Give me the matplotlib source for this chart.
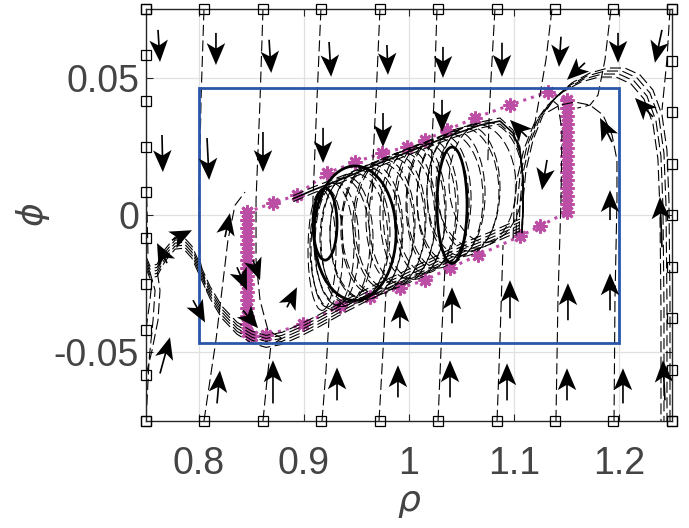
import numpy as np
import matplotlib
matplotlib.use('Agg')
import matplotlib.pyplot as plt
from matplotlib.patches import Ellipse, Rectangle
from matplotlib.transforms import offset_copy

# ---------------- axes ----------------
x_lim = [0.75, 1.25]
y_lim = [-0.075, 0.075]
x_ticks = [0.8, 0.9, 1.0, 1.1, 1.2]
x_tick_labels = ['0.8', '0.9', '1', '1.1', '1.2']
y_ticks = [-0.05, 0.0, 0.05]
y_tick_labels = ['-0.05', '0', '0.05']

# ---------------- initial conditions (squares) ----------------
sq_edge_rho = [0.75, 0.8056, 0.8611, 0.9167, 0.9722, 1.0278, 1.0833, 1.1389, 1.1944, 1.25]
sq_left_phi = [0.075, 0.0583, 0.0417, 0.025, 0.0083, -0.0083, -0.025, -0.0417, -0.0583, -0.075]
sq_right_phi = [0.075, 0.05625, 0.0375, 0.01875, 0.0, -0.01875, -0.0375, -0.05625, -0.075]

# ---------------- blue box ----------------
box_rho = [0.8, 1.2]
box_phi = [-0.0465, 0.0463]

# ---------------- magenta set ----------------
mag_left_rho = 0.846
mag_left_phi = [0.0011, -0.0018, -0.0047, -0.0077, -0.0106, -0.0135, -0.0164, -0.0193,
                -0.0223, -0.0252, -0.0281, -0.0310, -0.0339, -0.0369, -0.0398, -0.0427]
mag_upper_rho = [0.8707, 0.8935, 0.9221, 0.9487, 0.9743, 0.9981, 1.0152, 1.0361, 1.0627, 1.0960, 1.1321]
mag_upper_phi = [0.0044, 0.0073, 0.0153, 0.0193, 0.0226, 0.0248, 0.0274, 0.0310, 0.0354, 0.0401, 0.0449]
mag_right_rho = 1.1502
mag_right_phi = [0.0420, 0.0391, 0.0361, 0.0332, 0.0303, 0.0274, 0.0245, 0.0215,
                 0.0186, 0.0157, 0.0128, 0.0099, 0.0069, 0.0040, 0.0011]
mag_lower_rho = [1.1245, 1.1055, 1.0656, 1.0390, 1.0152, 0.9914, 0.9629, 0.9344, 0.8992, 0.8641, 0.8508]
mag_lower_phi = [-0.0040, -0.0077, -0.0146, -0.0193, -0.0237, -0.0266, -0.0299, -0.0332, -0.0398, -0.0438, -0.0442]

# ---------------- trajectories (dashed) ----------------
top1_rho = [0.7500, 0.7505, 0.7519]
top1_phi = [0.075, 0.0100, -0.0146]
top2_rho = [0.8051, 0.8023, 0.8004, 0.8013, 0.8080]
top2_phi = [0.075, 0.0420, 0.0055, -0.0164, -0.0281]
top3_rho = [0.8612, 0.8584, 0.8546, 0.8546, 0.8584, 0.8660, 0.8793]
top3_phi = [0.075, 0.0420, 0.0055, -0.0164, -0.0310, -0.0420, -0.0449]
top4_rho = [0.9163, 0.9125, 0.9087, 0.9097, 0.9154, 0.9268, 0.9392]
top4_phi = [0.075, 0.0420, 0.0055, -0.0091, -0.0201, -0.0292, -0.0332]
top5_rho = [0.9724, 0.9686, 0.9658, 0.9648]
top5_phi = [0.075, 0.0420, 0.0201, 0.0055]
top6_rho = [1.0266, 1.0238, 1.0219, 1.0210]
top6_phi = [0.075, 0.0420, 0.0274, 0.0100]
top7_rho = [1.0817, 1.0779, 1.0761, 1.0750]
top7_phi = [0.075, 0.0493, 0.0347, 0.0200]
top8_rho = [1.1359, 1.1302, 1.1245, 1.1180]
top8_phi = [0.075, 0.0566, 0.0438, 0.0300]
top9_rho = [1.1920, 1.1863, 1.1797, 1.1721, 1.1600]
top9_phi = [0.075, 0.0566, 0.0438, 0.0401, 0.0390]
top10_rho = [1.2481, 1.2452, 1.2405]
top10_phi = [0.075, 0.0566, 0.0383]

bot1_rho = [0.7500, 0.7529, 0.7567, 0.7586, 0.7538]
bot1_phi = [-0.075, -0.0529, -0.0383, -0.0274, -0.0208]
bot2_rho = [0.8051, 0.8108, 0.8165, 0.8222, 0.8279, 0.8346, 0.8441]
bot2_phi = [-0.075, -0.0602, -0.0456, -0.0274, -0.0091, 0.0036, 0.0084]
bot3_rho = [0.8612, 0.8650, 0.8688, 0.8793]
bot3_phi = [-0.075, -0.0602, -0.0474, -0.0449]
bot4_rho = [0.9173, 0.9211, 0.9240]
bot4_phi = [-0.075, -0.0566, -0.0376]
bot5_rho = [0.9715, 0.9753, 0.9781]
bot5_phi = [-0.075, -0.0493, -0.0281]
bot6_rho = [1.0276, 1.0304, 1.0342]
bot6_phi = [-0.075, -0.0493, -0.0190]
bot7_rho = [1.0837, 1.0865, 1.0894]
bot7_phi = [-0.075, -0.0456, -0.0109]
bot8_rho = [1.1397, 1.1416, 1.1445, 1.1454, 1.1416, 1.1359]
bot8_phi = [-0.075, -0.0310, 0.0055, 0.0310, 0.0401, 0.0420]
bot9_rho = [1.1949, 1.1958, 1.1977, 1.1977, 1.1930, 1.1844, 1.1721, 1.1578, 1.1435, 1.1321]
bot9_phi = [-0.075, -0.0310, 0.0055, 0.0201, 0.0292, 0.0365, 0.0401, 0.0412, 0.0401, 0.0376]

lefta_rho = [0.7500, 0.7557, 0.7614, 0.7633, 0.7605]
lefta_phi = [-0.0583, -0.0493, -0.0383, -0.0274, -0.0201]
leftb_rho = [0.7500, 0.7538, 0.7557]
leftb_phi = [-0.0417, -0.0310, -0.0237]

wave_rho = [0.7500, 0.7538, 0.7605, 0.7681, 0.7776, 0.7852, 0.7937, 0.8013, 0.8108, 0.8222,
            0.8365, 0.8508, 0.8641, 0.8793, 0.8964, 0.9154, 0.9392, 0.9629, 0.9914, 1.0200,
            1.0485, 1.0770, 1.1055]
wave_phi = [-0.0172, -0.0208, -0.0201, -0.0146, -0.0102, -0.0099, -0.0135, -0.0201, -0.0281, -0.0354,
            -0.0412, -0.0445, -0.0460, -0.0449, -0.0420, -0.0383, -0.0332, -0.0285, -0.0234, -0.0182,
            -0.0128, -0.0084, -0.0036]

arc_rho = [1.2481, 1.2481, 1.2471, 1.2452, 1.2405, 1.2319, 1.2196, 1.2053, 1.1892, 1.1721,
           1.1549, 1.1397, 1.1274, 1.1179, 1.1112, 1.1084, 1.1074]
arc_phi = [-0.075, -0.0310, 0.0055, 0.0237, 0.0365, 0.0456, 0.0511, 0.0536, 0.0536, 0.0518,
           0.0482, 0.0431, 0.0365, 0.0274, 0.0164, 0.0055, -0.0062]

env_rho = [0.8900, 0.9087, 0.9411, 0.9724, 1.0038, 1.0361, 1.0675, 1.0865, 1.0989, 1.1055, 1.1084, 1.1084, 1.1074]
env_phi = [0.0060, 0.0091, 0.0139, 0.0190, 0.0237, 0.0285, 0.0328, 0.0343, 0.0299, 0.0237, 0.0128, 0.0018, -0.0062]

# oscillation loops inside the band (centre, half width, half height)
loop_rho = [0.9173, 0.9268, 0.9363, 0.9477, 0.9591, 0.9705, 0.9819, 0.9933, 1.0048, 1.0162,
            1.0276, 1.0390, 1.0513, 1.0637, 1.0732,
            0.9221, 0.9316, 0.9411, 0.9534, 0.9648, 0.9762, 0.9876, 0.9990, 1.0105, 1.0219,
            1.0333, 1.0447, 1.0570]
loop_phi = [-0.0128, -0.0113, -0.0099, -0.0084, -0.0066, -0.0047, -0.0029, -0.0011, 0.0007, 0.0026,
            0.0044, 0.0062, 0.0084, 0.0106, 0.0120,
            -0.0120, -0.0105, -0.0089, -0.0069, -0.0051, -0.0033, -0.0015, 0.0004, 0.0022, 0.0040,
            0.0058, 0.0077, 0.0097]
loop_hw = [0.0133, 0.0209, 0.0266, 0.0323, 0.0342, 0.0342, 0.0333, 0.0314, 0.0295, 0.0285,
           0.0295, 0.0314, 0.0342, 0.0380, 0.0352,
           0.0152, 0.0209, 0.0247, 0.0285, 0.0295, 0.0295, 0.0285, 0.0266, 0.0247, 0.0247,
           0.0257, 0.0276, 0.0295]
loop_hh = [0.0219, 0.0230, 0.0234, 0.0237, 0.0241, 0.0241, 0.0241, 0.0241, 0.0241, 0.0237,
           0.0237, 0.0234, 0.0234, 0.0226, 0.0219,
           0.0215, 0.0222, 0.0228, 0.0232, 0.0236, 0.0236, 0.0236, 0.0236, 0.0236, 0.0233,
           0.0232, 0.0230, 0.0228]
bold_rho = [0.9202, 0.9487, 1.0409]
bold_phi = [-0.0033, -0.0066, 0.0036]
bold_hw = [0.0114, 0.0390, 0.0143]
bold_hh = [0.0131, 0.0245, 0.0212]

# ---------------- direction arrows ----------------
arrow_tail_rho = [0.7614, 0.8165, 0.8670, 0.9240, 0.9790, 1.0323, 1.0884, 1.1445, 1.1987, 1.2405,
                  0.7652, 0.8080, 0.8612, 0.9183, 0.9753, 1.0314,
                  1.1122, 1.1312, 1.1930, 1.1673, 1.2319,
                  1.1911, 1.2405, 1.1911, 1.1511, 1.0960, 1.0409, 0.9914,
                  0.8175, 0.8707, 0.9316, 0.9895, 1.0390, 1.0932, 1.1502, 1.2034, 1.2433,
                  0.7633, 0.7747, 0.7700, 0.7947, 0.8251, 0.8365, 0.8517, 0.8422, 0.8840]
arrow_tail_phi = [0.0675, 0.0664, 0.0639, 0.0631, 0.0620, 0.0613, 0.0628, 0.0650, 0.0664, 0.0675,
                  0.0292, 0.0281, 0.0303, 0.0318, 0.0372, 0.0420,
                  0.0285, 0.0201, 0.0266, 0.0555, 0.0358,
                  -0.0018, -0.0117, -0.0347, -0.0383, -0.0376, -0.0394, -0.0412,
                  -0.0686, -0.0686, -0.0675, -0.0664, -0.0664, -0.0675, -0.0675, -0.0686, -0.0675,
                  -0.0577, -0.0091, -0.0175, -0.0310, -0.0080, -0.0190, -0.0164, -0.0347, -0.0336]
arrow_head_rho = [0.7633, 0.8165, 0.8690, 0.9260, 0.9800, 1.0323, 1.0884, 1.1426, 1.1987, 1.2338,
                  0.7660, 0.8100, 0.8612, 0.9183, 0.9753, 1.0314,
                  1.0960, 1.1264, 1.1816, 1.1502, 1.2148,
                  1.1911, 1.2386, 1.1911, 1.1511, 1.0960, 1.0409, 0.9914,
                  0.8203, 0.8707, 0.9316, 0.9895, 1.0390, 1.0932, 1.1502, 1.2034, 1.2414,
                  0.7728, 0.7937, 0.7605, 0.8061, 0.8298, 0.8460, 0.8584, 0.8565, 0.8935]
arrow_head_phi = [0.0558, 0.0547, 0.0518, 0.0504, 0.0511, 0.0500, 0.0504, 0.0540, 0.0555, 0.0555,
                  0.0157, 0.0128, 0.0157, 0.0190, 0.0248, 0.0303,
                  0.0347, 0.0091, 0.0354, 0.0493, 0.0427,
                  0.0091, 0.0066, -0.0212, -0.0248, -0.0237, -0.0263, -0.0310,
                  -0.0566, -0.0529, -0.0555, -0.0547, -0.0529, -0.0540, -0.0558, -0.0558, -0.0529,
                  -0.0445, -0.0055, -0.0102, -0.0391, 0.0007, -0.0274, -0.0237, -0.0412, -0.0263]

# ---------------- styles ----------------
plt.rcParams['font.family'] = ['Liberation Sans', 'DejaVu Sans']
plt.rcParams['mathtext.fontset'] = 'dejavusans'
DASH = (0, (10, 4))
TXT = '#444444'
AXC = '#262626'
BLUE = '#2a56a8'
MAG = '#bd4ea5'

fig = plt.figure(figsize=(6.89, 5.28), dpi=100)
ax = fig.add_axes([0.2119, 0.2027, 0.7634, 0.7797])
ax.set_xlim(x_lim)
ax.set_ylim(y_lim)
ax.set_xticks(x_ticks)
ax.set_xticklabels(x_tick_labels)
ax.set_yticks(y_ticks)
ax.set_yticklabels(y_tick_labels)
ax.grid(True, color='#e0e0e0', lw=0.9)
ax.set_axisbelow(True)
ax.tick_params(direction='in', length=5, width=0.8, top=True, right=True,
               labelsize=27, labelcolor=TXT, color=AXC)
ax.tick_params(axis='x', pad=18)
ax.tick_params(axis='y', pad=5)
for s in ax.spines.values():
    s.set_color(AXC)
    s.set_linewidth(1.0)

ax.set_xlabel(r'$\rho$', fontsize=26, color=TXT, labelpad=2)
ax.set_ylabel(r'$\phi$', fontsize=26, color=TXT, labelpad=1)

# magenta set (under the trajectories)
mag_path_rho = ([mag_left_rho] + mag_upper_rho + [mag_right_rho] * len(mag_right_phi)
                + mag_lower_rho + [mag_left_rho] * len(mag_left_phi))
mag_path_phi = (mag_left_phi[:1] + mag_upper_phi + mag_right_phi + mag_lower_phi
                + mag_left_phi[::-1])
ax.plot(mag_path_rho, mag_path_phi, ':', color=MAG, lw=2.2, zorder=1.5)
ax.plot(mag_path_rho, mag_path_phi, ls='none', marker=(8, 2, 0), color=MAG, ms=10, mew=2.0, zorder=1.6)

# trajectories
def traj(r, p, **kw):
    ax.plot(r, p, color='k', lw=0.8, ls=DASH, zorder=2, **kw)

for r, p in [(top1_rho, top1_phi), (top2_rho, top2_phi), (top3_rho, top3_phi), (top4_rho, top4_phi),
             (top5_rho, top5_phi), (top6_rho, top6_phi), (top7_rho, top7_phi), (top8_rho, top8_phi),
             (top9_rho, top9_phi), (top10_rho, top10_phi),
             (bot1_rho, bot1_phi), (bot2_rho, bot2_phi), (bot3_rho, bot3_phi), (bot4_rho, bot4_phi),
             (bot5_rho, bot5_phi), (bot6_rho, bot6_phi), (bot7_rho, bot7_phi), (bot8_rho, bot8_phi),
             (bot9_rho, bot9_phi), (lefta_rho, lefta_phi), (leftb_rho, leftb_phi)]:
    traj(r, p)

# bundles (several neighbouring trajectories)
for k in [-6, -3, 0, 3, 6]:
    tr = offset_copy(ax.transData, fig=fig, x=0, y=k, units='dots')
    ax.plot(wave_rho, wave_phi, color='k', lw=0.8, ls=DASH, zorder=2, transform=tr)
for k in [0, 3, 6, 9]:
    tr = offset_copy(ax.transData, fig=fig, x=-k, y=-k, units='dots')
    ax.plot(arc_rho, arc_phi, color='k', lw=0.8, ls=DASH, zorder=2, transform=tr)
ax.plot(env_rho, env_phi, color='k', lw=1.2, zorder=2)
for k in [-3, 3]:
    tr = offset_copy(ax.transData, fig=fig, x=0, y=k, units='dots')
    ax.plot(env_rho, env_phi, color='k', lw=0.8, ls=DASH, zorder=2, transform=tr)

for r, p, w, h in zip(loop_rho, loop_phi, loop_hw, loop_hh):
    ax.add_patch(Ellipse((r, p), 2 * w, 2 * h, fill=False, ec='k', lw=0.75, ls=DASH, zorder=2))
for r, p, w, h in zip(bold_rho, bold_phi, bold_hw, bold_hh):
    ax.add_patch(Ellipse((r, p), 2 * w, 2 * h, fill=False, ec='k', lw=2.0, zorder=2.2))

# blue box
ax.add_patch(Rectangle((box_rho[0], box_phi[0]), box_rho[1] - box_rho[0], box_phi[1] - box_phi[0],
                       fill=False, ec=BLUE, lw=2.0, zorder=3))

# arrows
tr_r = np.array(arrow_tail_rho)
tr_p = np.array(arrow_tail_phi)
hd_r = np.array(arrow_head_rho)
hd_p = np.array(arrow_head_phi)
ax.quiver(tr_r, tr_p, hd_r - tr_r, hd_p - tr_p, angles='xy', scale_units='xy', scale=1,
          width=0.0032, headwidth=11, headlength=13, headaxislength=10, minshaft=0.5,
          color='k', zorder=4)

# initial-condition squares
sq_kw = dict(marker='s', ls='none', ms=6.5, mfc='none', mec='k', mew=0.9, clip_on=False, zorder=5)
ax.plot(sq_edge_rho, [y_lim[1]] * len(sq_edge_rho), **sq_kw)
ax.plot(sq_edge_rho, [y_lim[0]] * len(sq_edge_rho), **sq_kw)
ax.plot([x_lim[0]] * len(sq_left_phi), sq_left_phi, **sq_kw)
ax.plot([x_lim[1]] * len(sq_right_phi), sq_right_phi, **sq_kw)

fig.savefig('out.png', dpi=100)
